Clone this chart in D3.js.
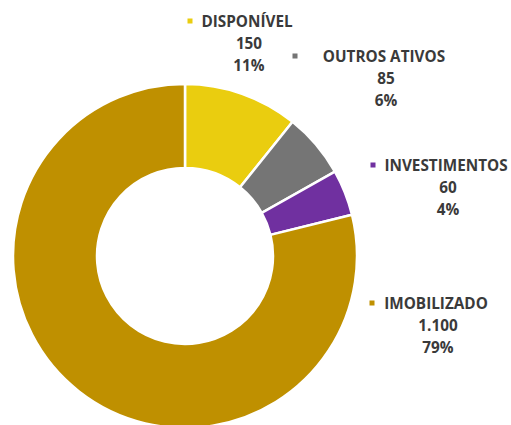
<!DOCTYPE html>
<html><head><meta charset="utf-8">
<script src="https://cdn.jsdelivr.net/npm/d3@7"></script>
<style>body{margin:0;background:#fff}svg{display:block}</style>
</head><body>
<svg id="c" width="511" height="425"></svg>
<script>
const categories = ["DISPONÍVEL", "OUTROS ATIVOS", "INVESTIMENTOS", "IMOBILIZADO"];
const values = [150, 85, 60, 1100];
const valueLabels = ["150", "85", "60", "1.100"];
const percentLabels = ["11%", "6%", "4%", "79%"];
const colors = ["#EACD0F", "#757575", "#7030A0", "#BF9000"];

// layout (label anchor centres & baselines)
const labelLayout = [
  {x: 247, y: 27, mx: 190},
  {x: 384, y: 62, mx: 295},
  {x: 446, y: 171, mx: 373},
  {x: 436, y: 309, mx: 372}
];

const svg = d3.select("#c");
const cx = 185, cy = 256, rOuter = 172, rInner = 88;
const data = categories.map((c, i) => ({c, v: values[i], i}));
const pie = d3.pie().value(d => d.v).sort(null);
const arc = d3.arc().innerRadius(rInner).outerRadius(rOuter);
const color = d3.scaleOrdinal().domain(categories).range(colors);

svg.append("g").attr("transform", `translate(${cx},${cy})`)
  .selectAll("path").data(pie(data)).join("path")
  .attr("d", arc)
  .attr("fill", d => color(d.data.c))
  .attr("stroke", "#fff").attr("stroke-width", 2.5);

const font = "'Open Sans', sans-serif";
const lg = svg.append("g");
data.forEach((d, i) => {
  const L = labelLayout[i];
  const g = lg.append("g");
  g.append("rect").attr("x", L.mx - 2.5).attr("y", L.y - 8.5).attr("width", 5).attr("height", 5)
    .attr("fill", color(d.c));
  [d.c, valueLabels[i], percentLabels[i]].forEach((t, k) => {
    g.append("text").attr("x", L.x + (k ? 2 : 0)).attr("y", L.y + k * 22)
      .attr("text-anchor", "middle")
      .attr("font-family", font).attr("font-weight", "bold").attr("font-size", 15.3)
      .attr("fill", "#3a3a3a").text(t);
  });
});
</script>
</body></html>
